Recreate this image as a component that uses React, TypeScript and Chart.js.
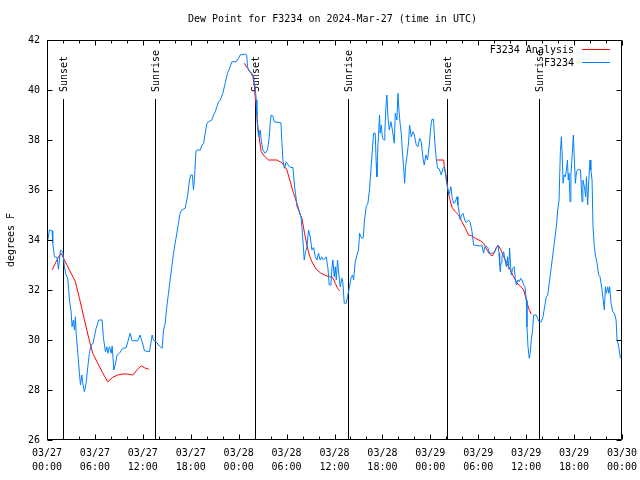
import React, { useEffect, useRef } from "react";
import { Chart, registerables } from "chart.js";

Chart.register(...registerables);

const TITLE = "Dew Point for F3234 on 2024-Mar-27 (time in UTC)";
const Y_LABEL = "degrees F";
const START_MONTH = "03";
const START_DAY = 27;
const X_MIN = 0;
const X_MAX = 72;
const X_STEP = 6;
const X_MINOR = 2;
const Y_MIN = 26;
const Y_MAX = 42;
const Y_STEP = 2;

const legendLabels = ["F3234 Analysis", "F3234"];
const analysisColor = "#ff0000";
const stationColor = "#0080ff";

// hours since 2024-03-27 00:00 UTC
const eventHours = [2.05, 13.5, 26.1, 37.7, 50.1, 61.6];
const eventLabels = ["Sunset", "Sunrise", "Sunset", "Sunrise", "Sunset", "Sunrise"];

const stationHours = [
  0.1, 0.3, 0.64, 0.72, 0.93, 1.27, 1.43, 1.56, 1.68, 1.98, 2.18, 2.39, 2.6, 2.81, 3.02, 3.14, 3.31, 3.43, 3.56, 3.65,
  3.86, 4.06, 4.19, 4.36, 4.48, 4.69, 4.9, 5.11, 5.31, 5.52, 5.73, 5.94, 6.15, 6.48, 6.9, 7.07, 7.32, 7.49, 7.61, 7.82,
  8.03, 8.16, 8.37, 8.53, 8.78, 9.07, 9.5, 9.91, 10.12, 10.41, 10.66, 11.37, 11.66, 11.91, 12.2, 12.83, 13.17, 13.33, 13.67, 14.08,
  14.42, 14.59, 14.8, 15.0, 15.21, 15.42, 15.63, 15.84, 16.05, 16.26, 16.46, 16.67, 16.88, 17.3, 17.59, 17.84, 18.01, 18.2, 18.34, 18.47,
  18.64, 18.76, 19.2, 19.39, 19.6, 19.81, 20.02, 20.22, 20.64, 20.85, 21.06, 21.27, 21.48, 21.69, 22.02, 22.31, 22.6, 22.94, 23.15, 23.69,
  23.98, 24.19, 24.82, 25.0, 25.11, 25.36, 25.66, 25.86, 26.07, 26.2, 26.28, 26.36, 26.49, 26.7, 26.82, 27.03, 27.32, 27.61, 27.83, 27.95,
  28.07, 28.3, 28.45, 29.29, 29.42, 29.54, 29.74, 29.96, 30.2, 30.46, 30.8, 31.0, 31.17, 31.3, 31.62, 31.8, 31.92, 32.04, 32.21, 32.34,
  32.55, 32.75, 32.96, 33.17, 33.38, 33.59, 33.8, 34.0, 34.2, 34.4, 34.63, 34.97, 35.18, 35.34, 35.55, 35.68, 35.8, 35.97, 36.1, 36.22,
  36.38, 36.55, 36.72, 36.93, 37.05, 37.22, 37.47, 37.63, 37.88, 38.1, 38.25, 38.39, 38.6, 38.81, 39.01, 39.14, 39.3, 39.43, 39.6, 39.76,
  39.97, 40.18, 40.38, 40.56, 40.68, 40.89, 41.1, 41.22, 41.31, 41.43, 41.64, 41.72, 41.85, 42.02, 42.2, 42.3, 42.44, 42.56, 42.69, 42.86,
  43.07, 43.25, 43.48, 43.61, 43.82, 43.95, 44.07, 44.2, 44.36, 44.49, 44.65, 44.78, 44.9, 45.07, 45.28, 45.4, 45.61, 45.83, 46.0, 46.24,
  46.45, 46.66, 46.85, 47.08, 47.24, 47.45, 47.65, 47.87, 48.08, 48.21, 48.4, 48.54, 48.75, 48.91, 49.1, 49.37, 49.58, 49.75, 49.87, 49.99,
  50.16, 50.29, 50.45, 50.58, 50.71, 50.92, 51.1, 51.34, 51.45, 51.63, 51.75, 51.9, 52.09, 52.3, 52.5, 52.79, 53.0, 53.22, 53.42, 54.26,
  54.45, 54.67, 54.8, 54.97, 55.2, 55.39, 55.72, 56.0, 56.26, 56.48, 56.6, 56.68, 56.76, 56.85, 56.97, 57.18, 57.35, 57.52, 57.68, 57.8,
  57.93, 58.05, 58.14, 58.31, 58.5, 58.64, 58.77, 58.95, 59.14, 59.3, 59.48, 59.69, 59.85, 60.02, 60.1, 60.23, 60.39, 60.5, 60.64, 60.81,
  60.93, 61.27, 61.43, 61.6, 61.9, 62.11, 62.31, 62.53, 62.7, 62.94, 63.15, 63.36, 63.57, 63.78, 63.95, 64.12, 64.28, 64.41, 64.5, 64.62,
  64.75, 64.9, 65.04, 65.17, 65.27, 65.37, 65.5, 65.6, 65.75, 65.91, 66.0, 66.16, 66.3, 66.5, 66.8, 67.0, 67.1, 67.29, 67.45, 67.55,
  67.7, 67.87, 68.0, 68.1, 68.25, 68.37, 68.54, 68.7, 68.88, 69.08, 69.25, 69.5, 69.67, 69.79, 69.92, 70.05, 70.21, 70.35, 70.45, 70.63,
  70.84, 71.05, 71.26, 71.38, 71.55, 71.8,
];

const stationValues = [
  34.0, 34.4, 34.37, 33.87, 33.33, 33.3, 32.83, 33.2, 33.6, 33.53, 32.93, 32.6, 32.47, 31.6, 31.13, 30.53, 30.8, 30.4, 30.93, 30.27,
  29.47, 28.67, 28.2, 28.6, 28.27, 27.93, 28.27, 28.93, 29.47, 29.8, 29.84, 30.13, 30.47, 30.8, 30.8, 30.07, 29.53, 29.73, 29.47, 29.73,
  29.47, 29.76, 28.8, 29.0, 29.4, 29.47, 29.67, 29.69, 29.93, 30.27, 29.97, 29.97, 30.2, 29.93, 29.57, 29.53, 30.2, 30.0, 29.93, 29.76,
  29.67, 30.4, 30.67, 31.33, 31.87, 32.4, 32.93, 33.47, 33.87, 34.27, 34.67, 35.07, 35.2, 35.27, 35.73, 36.4, 36.6, 36.6, 36.0, 36.47,
  37.53, 37.6, 37.6, 37.8, 37.85, 38.27, 38.67, 38.73, 38.8, 39.0, 39.13, 39.33, 39.53, 39.6, 39.87, 40.27, 40.67, 40.93, 41.13, 41.13,
  41.27, 41.4, 41.44, 41.4, 40.93, 40.73, 40.67, 40.53, 40.1, 39.6, 39.0, 38.53, 38.13, 38.4, 38.0, 37.6, 37.47, 37.6, 38.13, 38.67,
  39.0, 38.95, 38.73, 38.69, 37.87, 37.2, 36.87, 37.13, 37.0, 36.91, 36.9, 36.13, 35.73, 35.33, 35.13, 34.93, 34.53, 34.0, 33.2, 33.47,
  33.73, 34.4, 34.13, 33.6, 33.7, 33.33, 33.2, 33.47, 33.2, 33.33, 33.2, 33.33, 32.87, 32.2, 32.2, 32.87, 33.2, 32.53, 32.93, 32.4,
  33.2, 32.6, 32.13, 32.47, 32.3, 31.47, 31.47, 31.73, 32.13, 32.53, 32.6, 32.4, 33.13, 33.4, 33.6, 34.27, 34.13, 34.07, 34.1, 34.8,
  35.33, 35.47, 36.0, 36.8, 37.33, 38.27, 38.27, 37.07, 36.53, 37.73, 39.0, 38.27, 38.6, 38.07, 38.0, 38.3, 39.33, 39.8, 38.93, 38.4,
  38.73, 38.4, 37.87, 39.07, 38.8, 39.87, 39.2, 38.7, 38.27, 37.6, 36.93, 36.27, 36.93, 37.33, 37.93, 38.6, 38.13, 38.33, 38.2, 37.8,
  37.73, 38.07, 37.95, 37.27, 37.0, 37.4, 37.2, 37.8, 38.6, 38.83, 38.83, 38.0, 37.2, 36.87, 36.85, 36.6, 36.87, 36.93, 36.73, 36.4,
  36.13, 35.8, 35.95, 36.13, 35.73, 35.47, 35.5, 35.73, 35.4, 35.07, 34.8, 35.0, 35.07, 34.8, 34.7, 34.8, 34.7, 34.33, 33.8, 33.76,
  33.8, 33.47, 33.7, 33.76, 33.7, 33.47, 33.47, 33.5, 33.67, 33.8, 33.47, 33.0, 32.73, 33.1, 33.33, 33.53, 33.2, 32.93, 33.33, 32.85,
  33.67, 32.93, 32.6, 32.87, 32.93, 32.47, 32.2, 32.4, 32.33, 32.47, 32.4, 32.2, 32.13, 31.6, 30.53, 29.73, 29.27, 29.47, 30.0, 30.4,
  31.0, 31.0, 30.87, 30.73, 30.73, 30.93, 31.33, 31.73, 31.8, 32.4, 32.93, 33.47, 34.0, 34.53, 35.2, 35.6, 37.53, 38.13, 37.5, 36.27,
  36.6, 36.53, 36.8, 37.2, 36.4, 36.67, 35.53, 36.6, 37.33, 38.2, 37.5, 36.27, 36.73, 36.83, 36.8, 35.53, 36.4, 36.13, 35.73, 36.53,
  35.4, 36.6, 37.2, 36.8, 36.4, 34.53, 33.73, 33.33, 33.07, 32.6, 32.53, 32.0, 31.53, 31.2, 32.13, 31.87, 32.13, 31.87, 32.13, 31.47,
  31.13, 31.07, 30.8, 30.0, 29.8, 29.27,
];

// analysis: null value marks a break between runs
const analysisHours = [
  0.64, 1.35, 1.77, 2.18, 2.81, 3.56, 4.06, 4.69, 5.23, 5.73, 6.36, 6.99, 7.61, 8.24, 8.86, 9.49, 10.12, 10.74, 11.25, 11.79,
  12.2, 12.75, 18.0,
  24.72, 25.03, 25.44, 25.78, 25.95, 26.07, 26.2, 26.36, 26.61, 26.82, 27.2, 27.74, 28.79, 29.42, 30.04, 30.46, 30.87, 31.29, 31.71,
  31.92, 32.25, 32.55, 32.84, 33.17, 33.71, 34.22, 34.97, 35.39, 35.8, 36.09, 36.38, 36.63, 42.0,
  48.75, 49.67, 49.75, 50.0, 50.16, 50.41, 50.71, 51.13, 51.54, 51.96, 52.38, 52.79, 53.21, 53.63, 54.26, 54.67, 55.09, 55.42, 55.72,
  56.01, 56.26, 56.55, 56.85, 57.18, 57.6, 58.01, 58.43, 58.85, 59.27, 59.69, 60.02, 60.31, 60.64,
];

const analysisValues = [
  32.8, 33.27, 33.47, 33.2, 32.8, 32.33, 31.67, 30.8, 30.07, 29.47, 29.07, 28.67, 28.33, 28.51, 28.6, 28.64, 28.64, 28.6, 28.8, 28.97,
  28.89, 28.83, null,
  41.07, 40.9, 40.73, 40.53, 40.2, 39.73, 39.33, 38.67, 38.0, 37.53, 37.36, 37.2, 37.2, 37.09, 36.8, 36.33, 35.87, 35.47, 35.0,
  34.87, 34.27, 33.8, 33.4, 33.13, 32.83, 32.69, 32.57, 32.53, 32.49, 32.27, 32.07, 31.97, null,
  37.2, 37.2, 36.93, 36.5, 36.07, 35.67, 35.31, 35.13, 35.0, 34.73, 34.47, 34.2, 34.16, 34.07, 33.97, 33.87, 33.6, 33.44, 33.36,
  33.49, 33.71, 33.76, 33.6, 33.33, 33.07, 32.8, 32.53, 32.27, 32.16, 32.0, 31.6, 31.27, 31.03,
];

const FONT_FAMILY = '"DejaVu Sans Mono", "Liberation Mono", monospace';
const FONT = `10px ${FONT_FAMILY}`;

function xTickLabel(value: number): string[] {
  const day = START_DAY + Math.floor(value / 24);
  const hour = value % 24;
  const pad = (n: number) => String(n).padStart(2, "0");
  return [`${START_MONTH}/${pad(day)}`, `${pad(hour)}:00`];
}

const framePlugin = {
  id: "gnuFrame",
  beforeDatasetsDraw(chart: any) {
    const { ctx, chartArea: a, scales } = chart;
    const xs = scales.x;
    ctx.save();
    ctx.strokeStyle = "#000";
    ctx.fillStyle = "#000";
    ctx.lineWidth = 1;
    ctx.font = FONT;
    eventHours.forEach((h, i) => {
      const px = Math.round(xs.getPixelForValue(h)) + 0.5;
      ctx.beginPath();
      ctx.moveTo(px, a.top + 59);
      ctx.lineTo(px, a.bottom);
      ctx.stroke();
      ctx.save();
      ctx.translate(px + 0.5, a.top + 52);
      ctx.rotate(-Math.PI / 2);
      ctx.textAlign = "left";
      ctx.textBaseline = "middle";
      ctx.fillText(eventLabels[i], 0, 0);
      ctx.restore();
    });
    ctx.restore();
  },
  afterDatasetsDraw(chart: any) {
    const { ctx, chartArea: a, scales } = chart;
    const xs = scales.x;
    const ys = scales.y;
    const L = Math.round(a.left) + 0.5;
    const R = Math.round(a.right) - 0.5;
    const T = Math.round(a.top) + 0.5;
    const B = Math.round(a.bottom) - 0.5;
    ctx.save();
    ctx.strokeStyle = "#000";
    ctx.fillStyle = "#000";
    ctx.lineWidth = 1;
    ctx.beginPath();
    ctx.rect(L, T, R - L, B - T);
    ctx.stroke();
    // x ticks (inward, mirrored)
    ctx.beginPath();
    for (let h = X_MIN; h <= X_MAX; h += X_MINOR) {
      const px = Math.round(xs.getPixelForValue(h)) + 0.5;
      const len = h % X_STEP === 0 ? 5 : 3;
      ctx.moveTo(px, B);
      ctx.lineTo(px, B - len);
      ctx.moveTo(px, T);
      ctx.lineTo(px, T + len);
    }
    for (let v = Y_MIN; v <= Y_MAX; v += Y_STEP) {
      const py = Math.round(ys.getPixelForValue(v)) + 0.5;
      ctx.moveTo(L, py);
      ctx.lineTo(L + 5, py);
      ctx.moveTo(R, py);
      ctx.lineTo(R - 5, py);
    }
    ctx.stroke();

    ctx.font = FONT;
    // title
    ctx.textAlign = "center";
    ctx.textBaseline = "middle";
    ctx.fillText(TITLE, (a.left + a.right) / 2 - 2, 19);
    // y label
    ctx.save();
    ctx.translate(11, (a.top + a.bottom) / 2);
    ctx.rotate(-Math.PI / 2);
    ctx.fillText(Y_LABEL, 0, 0);
    ctx.restore();
    // legend
    const colors = [analysisColor, stationColor];
    legendLabels.forEach((lbl, i) => {
      const ly = a.top + 10 + i * 13;
      ctx.fillStyle = "#000";
      ctx.textAlign = "right";
      ctx.fillText(lbl, a.right - 48, ly);
      ctx.strokeStyle = colors[i];
      ctx.beginPath();
      ctx.moveTo(a.right - 40, Math.round(ly) - 0.5);
      ctx.lineTo(a.right - 12, Math.round(ly) - 0.5);
      ctx.stroke();
    });
    ctx.restore();
  },
};

export default function App() {
  const canvasRef = useRef<HTMLCanvasElement | null>(null);

  useEffect(() => {
    const canvas = canvasRef.current;
    if (!canvas) return;
    const stationData = stationHours.map((h, i) => ({ x: h, y: stationValues[i] }));
    const analysisData = analysisHours.map((h, i) => ({ x: h, y: analysisValues[i] }));
    const tickFont = { family: FONT_FAMILY, size: 10, lineHeight: 1.4 };
    const chart = new Chart(canvas, {
      type: "line",
      data: {
        datasets: [
          {
            label: legendLabels[1],
            data: stationData,
            borderColor: stationColor,
            borderWidth: 1,
            pointRadius: 0,
            tension: 0,
            fill: false,
          },
          {
            label: legendLabels[0],
            data: analysisData as any,
            borderColor: analysisColor,
            borderWidth: 1,
            pointRadius: 0,
            tension: 0,
            fill: false,
            spanGaps: false,
          },
        ],
      },
      options: {
        animation: false,
        responsive: false,
        devicePixelRatio: 1,
        events: [],
        layout: { padding: { left: 0, right: 18, top: 40, bottom: 0 } },
        plugins: {
          legend: { display: false },
          title: { display: false },
          tooltip: { enabled: false },
        },
        scales: {
          x: {
            type: "linear",
            min: X_MIN,
            max: X_MAX,
            grid: { display: false, drawTicks: false },
            border: { display: false },
            ticks: {
              stepSize: X_STEP,
              autoSkip: false,
              maxRotation: 0,
              minRotation: 0,
              padding: 6,
              color: "#000",
              font: tickFont,
              callback: (v: any) => xTickLabel(Number(v)),
            },
            afterFit: (s: any) => {
              s.height = 40;
              s.paddingLeft = 0;
              s.paddingRight = 0;
            },
          },
          y: {
            type: "linear",
            min: Y_MIN,
            max: Y_MAX,
            grid: { display: false, drawTicks: false },
            border: { display: false },
            ticks: {
              stepSize: Y_STEP,
              padding: 7,
              color: "#000",
              font: tickFont,
            },
            afterFit: (s: any) => {
              s.width = 47;
              s.paddingTop = 0;
              s.paddingBottom = 0;
            },
          },
        },
      },
      plugins: [framePlugin],
    });
    return () => chart.destroy();
  }, []);

  return (
    <div style={{ position: "fixed", left: 0, top: 0, width: 640, height: 480, background: "#fff" }}>
      <canvas ref={canvasRef} width={640} height={480} style={{ display: "block" }} />
    </div>
  );
}
